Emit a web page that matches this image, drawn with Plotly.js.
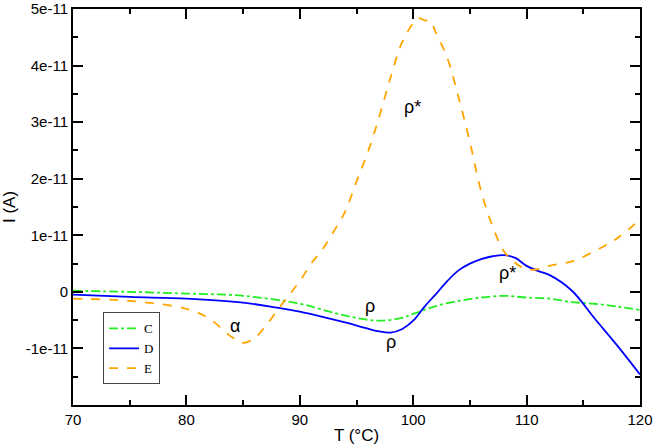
<!DOCTYPE html>
<html><head><meta charset="utf-8">
<script src="https://cdn.plot.ly/plotly-3.0.1.min.js"></script>
<style>html,body{margin:0;padding:0;background:#fff}#chart{width:654px;height:445px}</style>
</head><body><div id="chart"></div>
<script>
// Temperature (°C)
const T_C = [70,75,80,85,90,93,95,97,99,100,102,104,106,108,110,112,114,116,118,120];
const I_C = [0.02e-11,0,-0.03e-11,-0.07e-11,-0.21e-11,-0.37e-11,-0.46e-11,-0.51e-11,-0.46e-11,-0.39e-11,-0.25e-11,-0.16e-11,-0.1e-11,-0.07e-11,-0.1e-11,-0.12e-11,-0.18e-11,-0.21e-11,-0.26e-11,-0.32e-11];

const T_D = [70,75,80,85,88,90,92,94,96,97,98,99,100,101,102,103,104,105,106,107,108,109,110,111,112,114,116,118,120];
const I_D = [-0.05e-11,-0.09e-11,-0.12e-11,-0.19e-11,-0.28e-11,-0.35e-11,-0.44e-11,-0.54e-11,-0.65e-11,-0.7e-11,-0.72e-11,-0.66e-11,-0.51e-11,-0.26e-11,-0.04e-11,0.19e-11,0.38e-11,0.5e-11,0.58e-11,0.63e-11,0.65e-11,0.6e-11,0.46e-11,0.37e-11,0.3e-11,0.02e-11,-0.47e-11,-0.95e-11,-1.46e-11];

const T_E = [70,75,80,82,84,85,86,87,88,89,90,91,92,93,94,95,96,97,98,99,100,100.5,101,101.5,102,103,104,105,106,107,108,109,110,111,112,114,116,118,120];
const I_E = [-0.12e-11,-0.16e-11,-0.3e-11,-0.47e-11,-0.8e-11,-0.9e-11,-0.82e-11,-0.6e-11,-0.33e-11,-0.07e-11,0.19e-11,0.5e-11,0.75e-11,1.07e-11,1.42e-11,1.95e-11,2.47e-11,3.09e-11,3.79e-11,4.4e-11,4.75e-11,4.84e-11,4.8e-11,4.79e-11,4.58e-11,4.14e-11,3.44e-11,2.65e-11,1.77e-11,1.16e-11,0.72e-11,0.51e-11,0.4e-11,0.4e-11,0.46e-11,0.54e-11,0.72e-11,0.95e-11,1.28e-11];

const yTickVals = [-1e-11,0,1e-11,2e-11,3e-11,4e-11,5e-11];
const yTickText = ['-1e-11','0','1e-11','2e-11','3e-11','4e-11','5e-11'];
const xTickVals = [70,80,90,100,110,120];

const labels = [
  {x:84.3, y:-0.6e-11, t:'α'},
  {x:99.9, y:3.26e-11, t:'ρ*'},
  {x:96.2, y:-0.25e-11, t:'ρ'},
  {x:98.0, y:-0.88e-11, t:'ρ'},
  {x:108.3, y:0.33e-11, t:'ρ*'}
];

const fontSans = 'Liberation Sans, Arial, sans-serif';
const xRange = [70,120];
const yRange = [-2e-11,5.001e-11];

const traces = [
  {x:T_C, y:I_C, name:'C', mode:'lines', line:{color:'#22ee22', width:1.8, dash:'dashdot', shape:'spline'}},
  {x:T_D, y:I_D, name:'D', mode:'lines', line:{color:'#0000ff', width:1.8, shape:'spline'}},
  {x:T_E, y:I_E, name:'E', mode:'lines', line:{color:'#ffa500', width:1.8, dash:'dash', shape:'spline'}},
  {x:[], y:[], xaxis:'x2', yaxis:'y2', showlegend:false, hoverinfo:'skip', mode:'lines'}
];

const minorAxis = {showline:false, showgrid:false, zeroline:false, showticklabels:false,
  mirror:'ticks', ticks:'inside', ticklen:5, tickwidth:1.5, tickcolor:'#000', tickmode:'linear'};

const layout = {
  width:654, height:445,
  margin:{l:73, r:14, t:9, b:40},
  paper_bgcolor:'#fff', plot_bgcolor:'#fff',
  showlegend:true,
  legend:{x:0.053, y:0.2337, xanchor:'left', yanchor:'top', bgcolor:'#fff', bordercolor:'#444', borderwidth:1,
    font:{family:'Liberation Serif, Times New Roman, serif', size:13, color:'#000'}, tracegroupgap:0},
  xaxis: {range:xRange, tickvals:xTickVals, showgrid:false, zeroline:false,
    showline:true, linecolor:'#000', linewidth:2, mirror:'ticks',
    ticks:'inside', ticklen:10, tickwidth:1.5, tickcolor:'#000',
    tickfont:{family:fontSans, size:15, color:'#000'},
    title:{text:'T (°C)', font:{family:fontSans, size:17, color:'#000'}, standoff:4}},
  yaxis: {range:yRange, tickvals:yTickVals, ticktext:yTickText, showgrid:false, zeroline:false,
    showline:true, linecolor:'#000', linewidth:2, mirror:'ticks', ticklabeloverflow:'allow',
    ticks:'inside', ticklen:10, tickwidth:1.5, tickcolor:'#000',
    tickfont:{family:fontSans, size:15, color:'#000'},
    title:{text:'I (A)', font:{family:fontSans, size:17, color:'#000'}, standoff:6}},
  xaxis2: Object.assign({}, minorAxis, {overlaying:'x', anchor:'y2', side:'bottom', range:xRange, tick0:70, dtick:5}),
  yaxis2: Object.assign({}, minorAxis, {overlaying:'y', anchor:'x2', side:'left', range:yRange, tick0:0, dtick:0.5e-11}),
  annotations: labels.map(l => ({x:l.x, y:l.y, text:l.t, showarrow:false,
    font:{family:fontSans, size:18, color:'#000'}}))
};

Plotly.newPlot('chart', traces, layout, {displayModeBar:false});
</script></body></html>
